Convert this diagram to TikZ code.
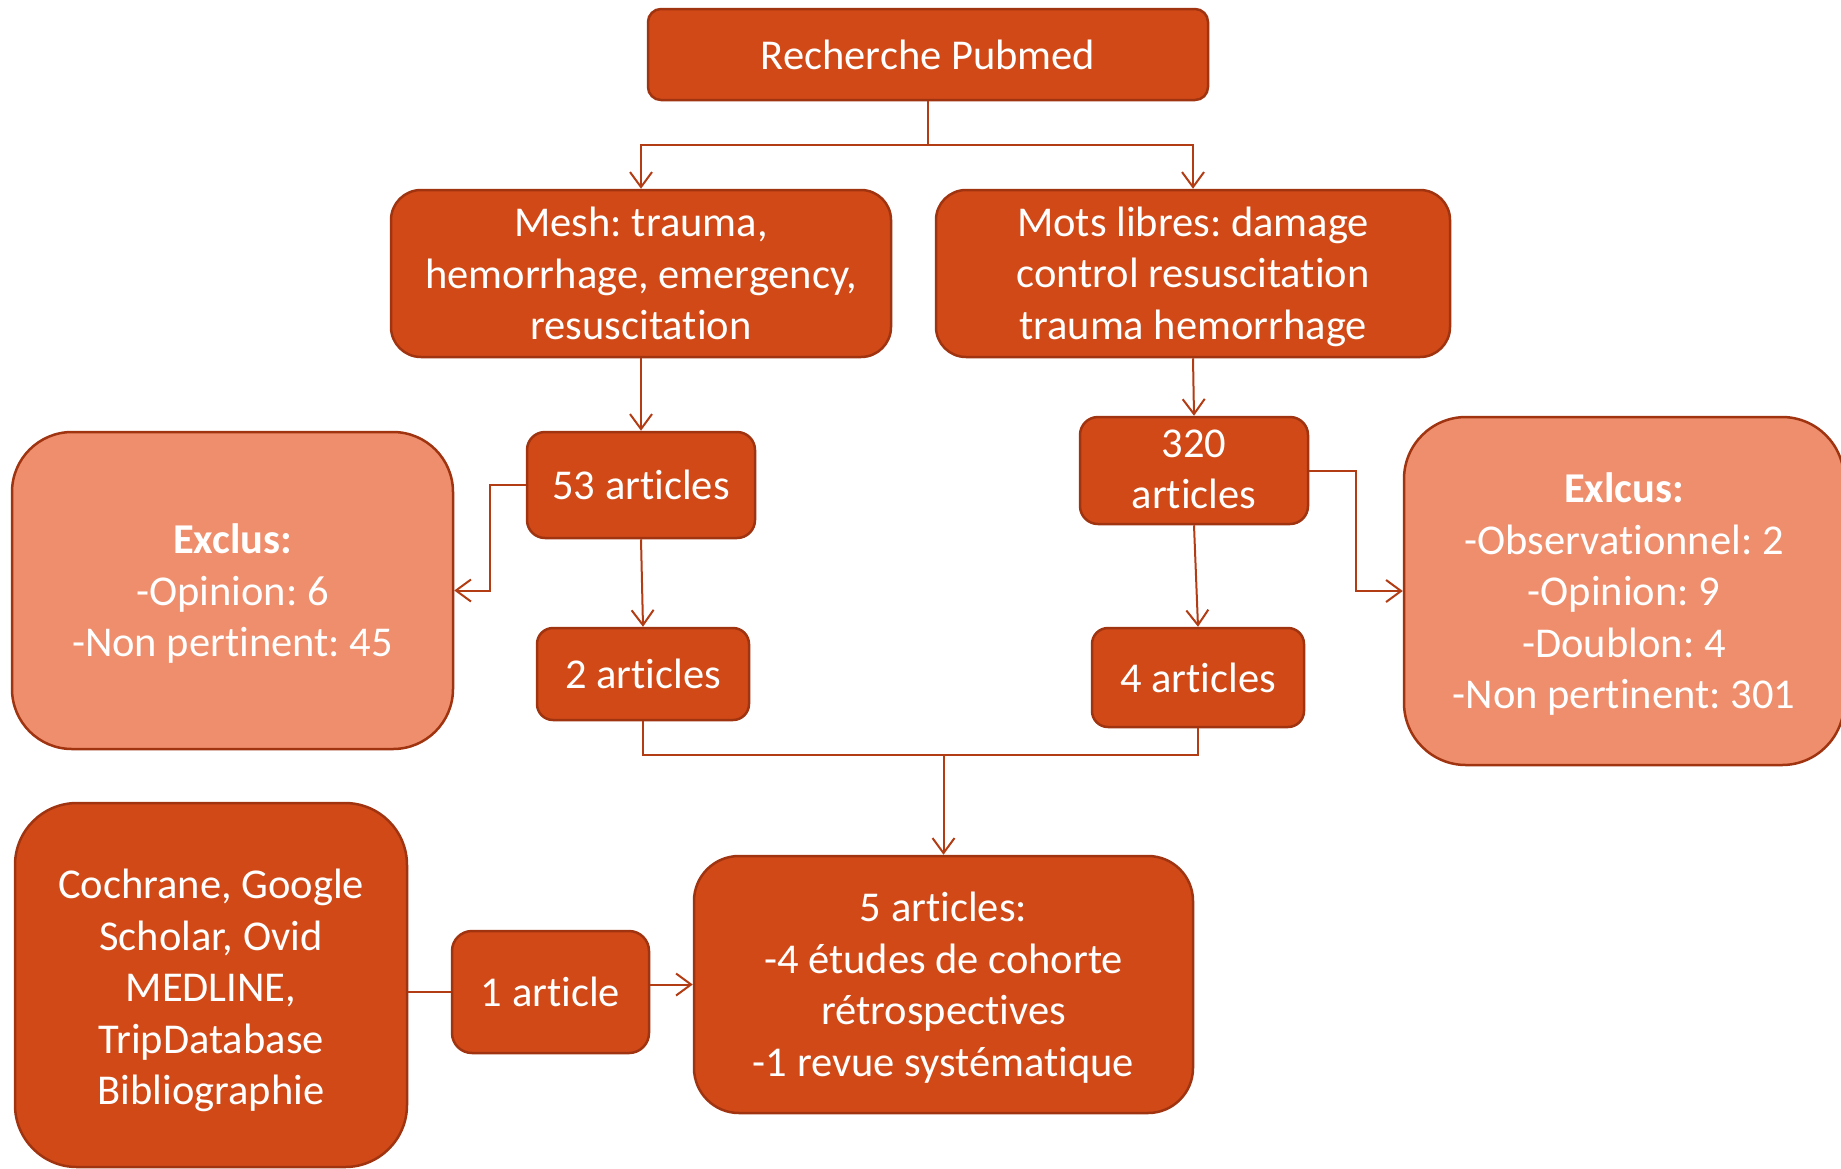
\documentclass[tikz,border=0pt]{standalone}
\usepackage{fontspec}
\setmainfont{Carlito}[RawFeature={-liga;-calt;-clig}]
\frenchspacing
\usetikzlibrary{arrows.meta}
\definecolor{boxfill}{RGB}{209,73,23}
\definecolor{boxline}{RGB}{160,52,16}
\definecolor{lightfill}{RGB}{239,142,108}
\definecolor{conn}{RGB}{178,60,20}
\newcommand{\toppad}[1]{\rule{0pt}{#1}}
\begin{document}
\begin{tikzpicture}[x=1pt,y=-1pt,
  base/.style={draw=boxline,line width=2.5pt,text=white,align=center,inner sep=0pt,
    font=\fontsize{42.5}{51.5}\selectfont},
  dark/.style={base,fill=boxfill},
  light/.style={base,fill=lightfill},
  box/.style n args={3}{minimum width=#1,minimum height=#2,rounded corners=#3},
  conn/.style={draw=conn,line width=2pt,-{Straight Barb[length=15pt,width=22pt,line width=2pt]}},
  plain/.style={draw=conn,line width=2pt}]
\useasboundingbox (0,0) rectangle (1841,1168);

\node[dark,box={560pt}{91pt}{13pt}] (pub) at (928,54.5) {Recherche Pubmed};
\node[dark,box={500pt}{167pt}{30pt}] (mesh) at (641,273.5) {Mesh: trauma,\\hemorrhage, emergency,\\resuscitation};
\node[dark,box={514pt}{167pt}{30pt}] (mots) at (1193,273.5) {\strut Mots libres: damage\\control resuscitation\\trauma hemorrhage};
\node[dark,box={228pt}{106pt}{18pt}] (a53) at (641,485) {53 articles};
\node[dark,box={228pt}{107pt}{18pt}] (a320) at (1194,470.5) {\toppad{40pt}320\\articles\strut};
\node[light,box={441pt}{317pt}{60pt}] (exl) at (232.5,590.5) {\toppad{45pt}\textbf{Exclus:}\\-Opinion: 6\\-Non pertinent: 45\strut};
\node[light,box={440pt}{348pt}{62pt}] (exr) at (1624,591) {\toppad{45pt}\textbf{Exlcus:}\\-Observationnel: 2\\-Opinion: 9\\-Doublon: 4\\-Non pertinent: 301\strut};
\node[dark,box={212pt}{92pt}{16pt}] (a2) at (643,674) {2 articles};
\node[dark,box={212pt}{99pt}{16pt}] (a4) at (1198,677.5) {4 articles};
\node[dark,box={499pt}{257pt}{45pt}] (a5) at (943.5,984.5) {\toppad{44pt}5 articles:\\-4 études de cohorte\\rétrospectives\\-1 revue systématique\strut};
\node[dark,box={197pt}{122pt}{20pt}] (a1) at (550.5,992) {1 article};
\node[dark,box={392pt}{364pt}{62pt}] (coch) at (211,985) {\toppad{49pt}Cochrane, Google\\Scholar, Ovid\\MEDLINE,\\TripDatabase\\Bibliographie\strut};

\coordinate (split) at (928,145);
\draw[plain] (pub.south) -- (split);
\draw[conn] (split) -| (mesh.north);
\draw[conn] (split) -| (mots.north);
\draw[conn] (mesh.south) -- (a53.north);
\draw[conn] (mots.south) -- (a320.north);
\draw[conn] (a53.south) -- (a2.north);
\draw[conn] (a320.south) -- (a4.north);
\draw[conn] (a53.west) -- (490,485) |- (exl.east);
\draw[conn] (a320.east) -- (1356,470.5) |- (exr.west);
\coordinate (merge) at (943.5,755);
\draw[plain] (a2.south) |- (merge);
\draw[plain] (a4.south) |- (merge);
\draw[conn] (merge) -- (a5.north);
\draw[plain] (coch.east |- a1.west) -- (a1.west);
\draw[conn] (a1.east |- a5.west) -- (a5.west);
\end{tikzpicture}
\end{document}
